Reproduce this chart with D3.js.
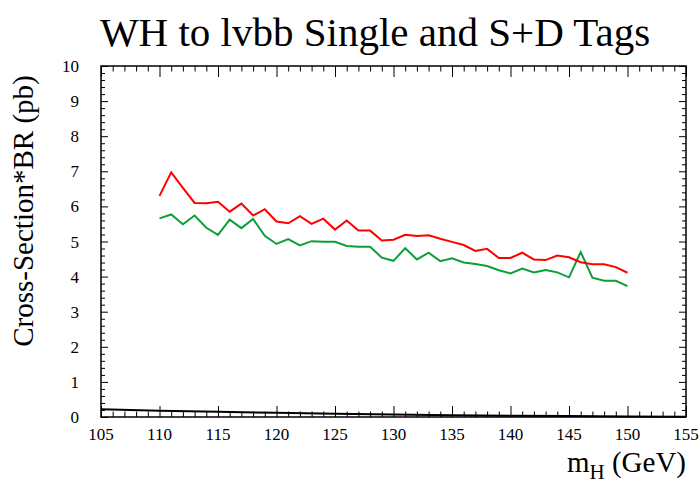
<!DOCTYPE html>
<html>
<head>
<meta charset="utf-8">
<script src="https://cdn.jsdelivr.net/npm/d3@7/dist/d3.min.js"></script>
<style>
  html, body { margin: 0; padding: 0; background: #fff; }
  svg { display: block; }
  text { font-family: "Liberation Serif", "Times New Roman", serif; fill: #000; }
</style>
</head>
<body>
<svg id="chart" width="699" height="484"></svg>
<script>
// Higgs mass points (GeV)
const massPoints = d3.range(110, 151, 1);

// Single tags (red), cross-section*BR in pb
const singleTag = [6.30, 6.97, 6.53, 6.10, 6.09, 6.13, 5.85, 6.08, 5.74, 5.92,
                   5.57, 5.52, 5.72, 5.50, 5.65, 5.34, 5.60, 5.31, 5.31, 5.03,
                   5.05, 5.19, 5.16, 5.18, 5.08, 4.99, 4.90, 4.73, 4.79, 4.53,
                   4.53, 4.68, 4.49, 4.47, 4.60, 4.55, 4.41, 4.35, 4.35, 4.27,
                   4.11];

// Single + double tags (green)
const sdTag = [5.66, 5.77, 5.49, 5.74, 5.39, 5.19, 5.62, 5.38, 5.64, 5.16,
               4.93, 5.07, 4.89, 5.01, 4.99, 4.99, 4.87, 4.85, 4.85, 4.54,
               4.45, 4.81, 4.49, 4.68, 4.44, 4.52, 4.40, 4.36, 4.30, 4.18,
               4.09, 4.23, 4.12, 4.19, 4.12, 3.98, 4.70, 3.97, 3.88, 3.88,
               3.73];

// Standard model expectation (black)
const smMass = [105, 110, 115, 120, 125, 130, 135, 140, 145, 150, 155];
const smXsec = [0.22, 0.18, 0.15, 0.12, 0.09, 0.07, 0.05, 0.035, 0.025, 0.015, 0.01];

const xTicks = d3.range(105, 156, 5);
const yTicks = d3.range(0, 11, 1);

const svg = d3.select("#chart");
const padL = 101, padR = 686, padT = 66, padB = 417;

const x = d3.scaleLinear().domain([105, 155]).range([padL, padR]);
const y = d3.scaleLinear().domain([0, 10]).range([padB, padT]);

// Title
svg.append("text")
  .attr("x", 375).attr("y", 46)
  .attr("text-anchor", "middle")
  .style("font-size", "41px")
  .text("WH to lvbb Single and S+D Tags");

// Curves
const line = d3.line().x(d => x(d[0])).y(d => y(d[1]));
const plot = svg.append("g");
plot.append("path")
  .datum(smMass.map((m, i) => [m, smXsec[i]]))
  .attr("d", line).attr("fill", "none")
  .attr("stroke", "#000").attr("stroke-width", 2);
plot.append("path")
  .datum(massPoints.map((m, i) => [m, sdTag[i]]))
  .attr("d", line).attr("fill", "none")
  .attr("stroke", "#0f9d3b").attr("stroke-width", 2);
plot.append("path")
  .datum(massPoints.map((m, i) => [m, singleTag[i]]))
  .attr("d", line).attr("fill", "none")
  .attr("stroke", "#ff0000").attr("stroke-width", 2);

// Axes with inward ticks on all four sides
const xMinor = d3.range(105, 155.001, 1).filter(v => v % 5 !== 0);
const yMinor = d3.range(0, 10.001, 0.2).map(v => +v.toFixed(1)).filter(v => Math.abs(v - Math.round(v)) > 1e-6);

function xAxis(g, pos, dir) {
  const mk = () => (dir > 0 ? d3.axisTop(x) : d3.axisBottom(x));
  g.append("g").attr("transform", `translate(0,${pos})`)
    .call(mk().tickValues(xTicks).tickSize(11).tickFormat("").tickSizeOuter(0));
  g.append("g").attr("transform", `translate(0,${pos})`)
    .call(mk().tickValues(xMinor).tickSize(5.5).tickFormat("").tickSizeOuter(0));
}
function yAxis(g, pos, dir) {
  const mk = () => (dir > 0 ? d3.axisRight(y) : d3.axisLeft(y));
  g.append("g").attr("transform", `translate(${pos},0)`)
    .call(mk().tickValues(yTicks).tickSize(7).tickFormat("").tickSizeOuter(0));
  g.append("g").attr("transform", `translate(${pos},0)`)
    .call(mk().tickValues(yMinor).tickSize(4).tickFormat("").tickSizeOuter(0));
}
const axes = svg.append("g");
xAxis(axes, padB, 1);
xAxis(axes, padT, -1);
yAxis(axes, padL, 1);
yAxis(axes, padR, -1);
axes.selectAll(".domain").remove();
axes.selectAll("line").attr("stroke", "#000").attr("stroke-width", 1);

svg.append("rect")
  .attr("x", padL).attr("y", padT)
  .attr("width", padR - padL).attr("height", padB - padT)
  .attr("fill", "none").attr("stroke", "#000").attr("stroke-width", 1.5);

// Tick labels
svg.append("g").selectAll("text").data(xTicks).join("text")
  .attr("x", d => x(d)).attr("y", 440)
  .attr("text-anchor", "middle")
  .style("font-size", "17px")
  .text(d => d);
svg.append("g").selectAll("text").data(yTicks).join("text")
  .attr("x", 79).attr("y", d => y(d) + 6)
  .attr("text-anchor", "end")
  .style("font-size", "17px")
  .text(d => d);

// Axis titles
svg.append("text")
  .attr("transform", "translate(33,211) rotate(-90)")
  .attr("text-anchor", "middle")
  .style("font-size", "29px")
  .text("Cross-Section*BR (pb)");

const xt = svg.append("text")
  .attr("x", 686).attr("y", 472)
  .attr("text-anchor", "end")
  .style("font-size", "29px");
xt.append("tspan").text("m");
xt.append("tspan").attr("dy", 7).style("font-size", "21px").text("H");
xt.append("tspan").attr("dy", -7).text(" (GeV)");
</script>
</body>
</html>
